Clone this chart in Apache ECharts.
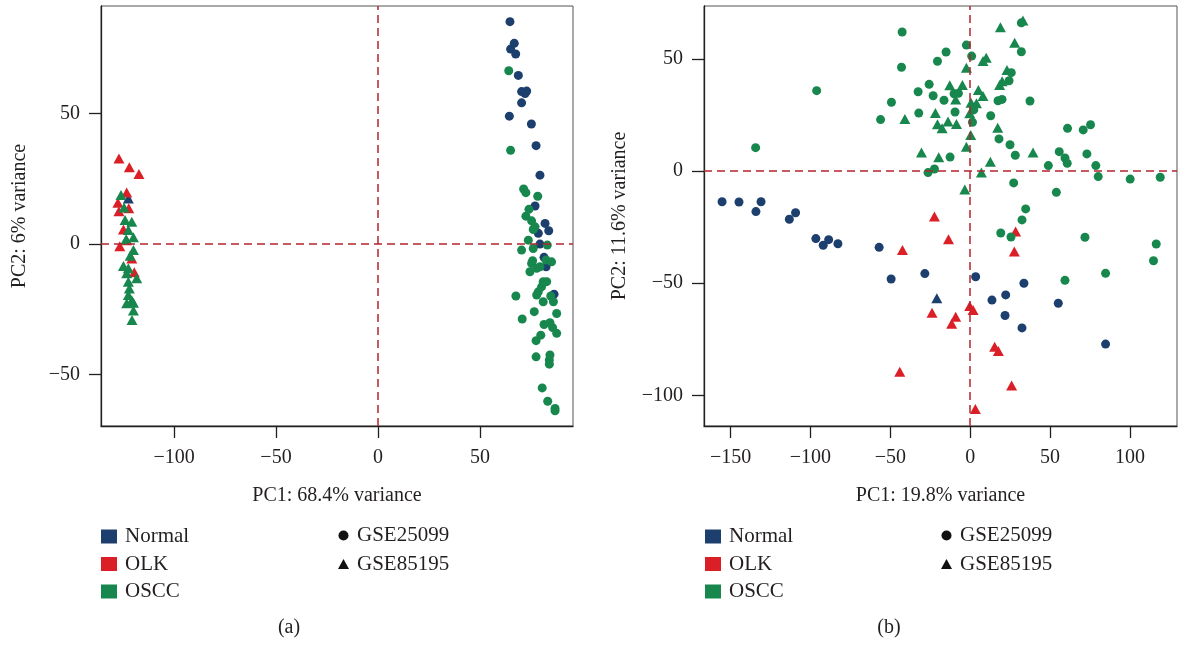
<!DOCTYPE html>
<html>
<head>
<meta charset="utf-8">
<script src="https://cdn.jsdelivr.net/npm/echarts@6/dist/echarts.min.js"></script>
<style>html,body{margin:0;padding:0;background:#fff}#c{width:1178px;height:646px}</style>
</head>
<body>
<div id="c"></div>
<script>
// ---------- data ----------
const groups = ['Normal', 'OLK', 'OSCC'];
const datasets = ['GSE25099', 'GSE85195'];
const panelLabels = ['(a)', '(b)'];
const aXName = 'PC1: 68.4% variance';
const aYName = 'PC2: 6% variance';
const bXName = 'PC1: 19.8% variance';
const bYName = 'PC2: 11.6% variance';
const aXTicks = [-100, -50, 0, 50];
const aYTicks = [-50, 0, 50];
const bXTicks = [-150, -100, -50, 0, 50, 100];
const bYTicks = [-100, -50, 0, 50];

// Panel (a)
const aNormalGSE25099 = [[64.7,85.2],[66.8,76.9],[65,74.7],[67.5,72.8],[68.8,64.6],[70.4,58.4],[72.9,58.6],[72.1,57.7],[70.4,54.1],[64.4,49],[75.2,46],[77.5,37.7],[79.4,26.4],[77,14.6],[81.9,7.9],[83.7,5.1],[78.6,4.1],[79.4,0],[81.4,-5.1],[82.4,-8.7],[86.3,-19.2]];
const aNormalGSE85195 = [[-122.4,17.5]];
const aOLKGSE85195 = [[-127,32.8],[-121.9,29.4],[-117.2,26.8],[-123.2,19.8],[-127.5,15.8],[-122.2,13.7],[-127,12.6],[-124.8,5.6],[-123.2,1.5],[-126.6,-0.8],[-120.7,-5.5],[-119.5,-10.8]];
const aOSCCGSE25099 = [[64.1,66.4],[65,35.9],[71.4,21.1],[72.5,19.7],[78.3,18.3],[74,13.3],[72.5,10.7],[75.3,8.9],[77,6.6],[76.1,5.6],[73.7,1.5],[70.4,-2.3],[76.1,-1.7],[83,-0.4],[75.8,-6.4],[82.4,-6.1],[85.1,-6.8],[75.3,-7.4],[79.4,-8.7],[77.8,-9.3],[74.5,-10.6],[81,-14.4],[82.7,-14.4],[80.2,-16.4],[78.6,-18.3],[77.8,-19.5],[67.6,-19.9],[84.7,-19.9],[81,-22.1],[86,-22.1],[76.6,-25.9],[87.6,-26.6],[70.7,-28.7],[81.4,-30.8],[84.3,-30.1],[85.6,-32],[87.6,-34.2],[79.8,-34.9],[77.5,-37],[77.5,-43.2],[84.3,-42.5],[84,-44.4],[84,-46],[80.5,-55.1],[83.2,-60.2],[86.8,-63],[86.8,-63.9]];
const aOSCCGSE85195 = [[-126,18.8],[-124.5,14],[-124,9.2],[-120.7,8.5],[-122.4,5.4],[-119.9,2.6],[-123.5,1.8],[-119.9,-2.3],[-121.5,-4.5],[-124.8,-8.4],[-122.4,-9.3],[-118.3,-13.1],[-123.2,-11.2],[-122.4,-14.4],[-121.9,-17],[-122.4,-19.5],[-120.7,-21.5],[-119.9,-22.5],[-123.2,-22.7],[-119.9,-25.5],[-120.6,-29.1]];

// Panel (b)
const bNormalGSE25099 = [[-155.3,-13.7],[-144.7,-13.8],[-130.9,-13.7],[-134.1,-18.1],[-113.2,-21.5],[-109.3,-18.6],[-96.6,-30.1],[-92,-33.1],[-88.6,-30.6],[-82.8,-32.4],[-57,-34],[-49.5,-48.1],[-28.4,-45.7],[3.4,-47.1],[33.6,-50],[22.2,-55.2],[13.6,-57.5],[55.1,-58.9],[21.8,-64.4],[32.4,-69.9],[84.7,-77.1]];
const bNormalGSE85195 = [[-20.9,-56.7]];
const bOLKGSE85195 = [[-22.4,-20.3],[-13.6,-30.4],[-42.4,-35.2],[28.4,-27],[27.6,-35.9],[-23.9,-63.1],[-9.1,-64.9],[-11.6,-68],[-0.3,-60.1],[1.8,-61.9],[15.3,-78.3],[17.6,-80.2],[-44.1,-89.4],[25.9,-95.6],[3.2,-106]];
const bOSCCGSE25099 = [[-42.6,61.9],[-43,46.2],[-96.1,35.8],[-134.3,10.4],[-49.3,30.6],[-56.1,22.9],[-32.6,35.3],[-32.2,25.8],[-25.7,38.6],[-26.4,-0.7],[-2.4,56.1],[-15.1,53],[-20.5,48.9],[0.9,51.2],[32,53.1],[32,66],[25.7,43.8],[24.3,40.2],[-23.2,33.5],[-16.4,31.5],[-10.1,34.4],[-7.4,34.6],[17.4,31.3],[19.9,31.9],[37.4,31.2],[-9.5,26.3],[2.2,27.2],[12.8,24.6],[1.4,21.7],[60.9,19],[70.7,18.3],[75.3,20.6],[18,14.3],[24.9,11.7],[28.2,7],[-12.6,6.2],[55.7,8.6],[59.3,5.8],[60.7,3.4],[73,7.6],[48.9,2.4],[78.6,2.4],[80.1,-2.5],[100.1,-3.6],[118.9,-2.8],[-22.4,0.9],[27.2,-5.3],[53.9,-9.5],[34.7,-16.9],[32.4,-21.8],[19.1,-27.6],[25.5,-29.4],[71.8,-29.5],[116.4,-32.5],[114.7,-40],[84.7,-45.6],[59.3,-48.7]];
const bOSCCGSE85195 = [[33,67],[18.9,64],[27.8,57.1],[8,49],[10,50.5],[-2.4,46],[23,45],[-12.8,38.2],[-4.9,38.3],[18.4,38.3],[20,40],[5.1,36.1],[8,33.4],[-9.1,31.9],[0.5,30.4],[3.9,30.2],[-40.9,23.2],[-21.8,25.8],[-0.3,25.7],[-20.5,20.8],[-17.6,19],[-13.9,22],[-8.6,20.9],[17.2,19.3],[0.3,16],[-2.4,10.8],[-30.5,8.2],[-19.7,6.1],[39.3,8.2],[12.6,4.1],[7,-0.7],[-3.4,-8.2]];

// ---------- styling ----------
const colors = { Normal: '#1c3f6e', OLK: '#da1f27', OSCC: '#17874e' };
const FONT = 'Liberation Serif';
const TXT = '#231f20';
const refColor = '#b3262e';

function minusFmt(v) { return String(v).replace('-', '\u2212'); }

function makeAxis(gi, lo, hi, ticks, name, nameGap, isX) {
  return {
    type: 'value', gridIndex: gi, min: lo, max: hi,
    name: name, nameLocation: 'middle', nameGap: nameGap,
    nameTextStyle: { fontFamily: FONT, fontSize: 20, color: TXT },
    axisLine: { show: true, onZero: false, lineStyle: { color: TXT, width: 1.3 } },
    axisTick: { show: true, inside: false, length: 12, customValues: ticks, lineStyle: { color: TXT, width: 1.3 } },
    axisLabel: { show: true, customValues: ticks, margin: isX ? 22 : 21, formatter: minusFmt,
      fontFamily: FONT, fontSize: 20, color: TXT },
    splitLine: { show: false }
  };
}

function sc(name, data, sym, gi, color) {
  return {
    type: 'scatter', name: name, xAxisIndex: gi, yAxisIndex: gi, data: data,
    symbol: sym, symbolSize: sym === 'triangle' ? [11, 10] : 9,
    itemStyle: { color: color, opacity: 1 }, z: 3, silent: true
  };
}

function refLines(gi) {
  return {
    type: 'scatter', xAxisIndex: gi, yAxisIndex: gi, data: [], z: 1, silent: true,
    markLine: {
      silent: true, symbol: ['none', 'none'], label: { show: false },
      lineStyle: { color: refColor, type: [8, 5], width: 1.5 },
      data: [{ xAxis: 0 }, { yAxis: 0 }]
    }
  };
}

const series = [
  refLines(0), refLines(1),
  sc('Normal', aNormalGSE25099, 'circle', 0, colors.Normal),
  sc('Normal', aNormalGSE85195, 'triangle', 0, colors.Normal),
  sc('OLK', aOLKGSE85195, 'triangle', 0, colors.OLK),
  sc('OSCC', aOSCCGSE25099, 'circle', 0, colors.OSCC),
  sc('OSCC', aOSCCGSE85195, 'triangle', 0, colors.OSCC),
  sc('Normal', bNormalGSE25099, 'circle', 1, colors.Normal),
  sc('Normal', bNormalGSE85195, 'triangle', 1, colors.Normal),
  sc('OLK', bOLKGSE85195, 'triangle', 1, colors.OLK),
  sc('OSCC', bOSCCGSE25099, 'circle', 1, colors.OSCC),
  sc('OSCC', bOSCCGSE85195, 'triangle', 1, colors.OSCC),
  sc(datasets[0], [], 'circle', 0, '#111'),
  sc(datasets[1], [], 'triangle', 0, '#111')
];

const legendText = { fontFamily: FONT, fontSize: 21, color: TXT, lineHeight: 20, padding: [0, 0, 0, 3] };
function grpLegend(left) {
  return { orient: 'vertical', left: left, top: 526, padding: 0, selectedMode: false,
    data: groups, icon: 'rect', itemWidth: 16, itemHeight: 14, itemGap: 6.5, textStyle: legendText };
}
function dsLegend(left) {
  return { orient: 'vertical', left: left, top: 525, padding: 0, selectedMode: false,
    data: [{ name: datasets[0], icon: 'circle' }, { name: datasets[1], icon: 'triangle' }],
    itemWidth: 11, itemHeight: 10, itemGap: 7.5, textStyle: legendText };
}

const option = {
  animation: false,
  backgroundColor: '#fff',
  grid: [
    { left: 101, top: 6, width: 472, height: 420, show: true, borderColor: '#555', borderWidth: 1, backgroundColor: 'transparent' },
    { left: 704, top: 6, width: 473, height: 420, show: true, borderColor: '#555', borderWidth: 1, backgroundColor: 'transparent' }
  ],
  xAxis: [
    makeAxis(0, -135.8, 95.6, aXTicks, aXName, 60, true),
    makeAxis(1, -166.6, 129.4, bXTicks, bXName, 60, true)
  ],
  yAxis: [
    makeAxis(0, -69.7, 91.2, aYTicks, aYName, 71, false),
    makeAxis(1, -113.6, 73.5, bYTicks, bYName, 74, false)
  ],
  legend: [grpLegend(101), dsLegend(338), grpLegend(705), dsLegend(941)],
  graphic: [
    { type: 'text', x: 289, y: 628, style: { text: panelLabels[0], textAlign: 'center', textVerticalAlign: 'middle', font: '20px "Liberation Serif"', fill: TXT } },
    { type: 'text', x: 889, y: 628, style: { text: panelLabels[1], textAlign: 'center', textVerticalAlign: 'middle', font: '20px "Liberation Serif"', fill: TXT } }
  ],
  series: series
};

const chart = echarts.init(document.getElementById('c'), null, { renderer: 'canvas' });
chart.setOption(option);
</script>
</body>
</html>
